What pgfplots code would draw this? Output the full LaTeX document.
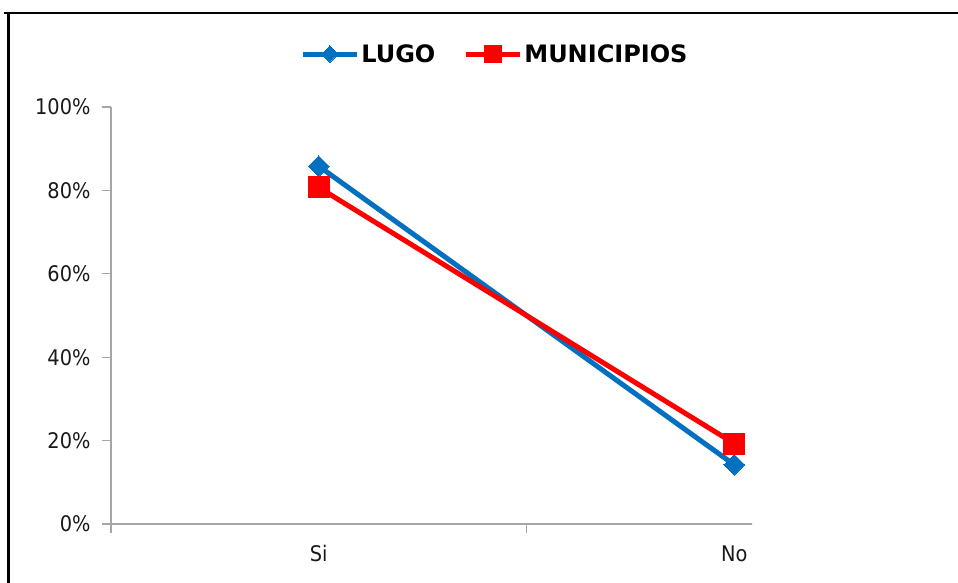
\documentclass[border=0pt]{standalone}
\usepackage{fontspec}
\setmainfont{DejaVu Sans}
\newfontfamily\tickfont{DejaVu Sans Condensed}
\usepackage{pgfplots}
\pgfplotsset{compat=1.18}
\definecolor{lugo}{HTML}{0070C0}
\definecolor{muni}{HTML}{FF0000}
\definecolor{axgray}{HTML}{A6A6A6}
\begin{document}
\begin{tikzpicture}[x=1pt,y=1pt]
\useasboundingbox (0,0) rectangle (958,583);
\draw[line width=2.6pt] (4,570) -- (958,570);
\draw[line width=3pt] (8.5,571.3) -- (8.5,0);
\begin{scope}
\clip (0,0) rectangle (752,583);
\begin{axis}[
  at={(111pt,59pt)}, anchor=origin,
  scale only axis, width=831pt, height=417pt,
  xmin=0, xmax=2, ymin=0, ymax=100,
  axis x line*=bottom, axis y line*=left,
  axis line style={draw=axgray, line width=1.3pt},
  tick style={draw=axgray, line width=1.3pt},
  tick align=outside, major tick length=9pt,
  xtick={0,1,2}, xticklabels={},
  extra x ticks={0.5,1.5}, extra x tick labels={Si,No},
  extra x tick style={major tick length=0pt, xticklabel style={yshift=-18pt}},
  ytick={0,20,40,60,80,100},
  yticklabel={\pgfmathprintnumber{\tick}\%},
  /pgf/number format/assume math mode=true,
  ticklabel style={font=\tickfont\fontsize{21.5}{24}\selectfont, text=black!90},
  yticklabel style={xshift=-8pt},
  legend style={at={(0.462,1.127)}, anchor=center, draw=none, fill=none,
    legend columns=2, font=\fontsize{24}{27}\selectfont\bfseries,
    /tikz/every even column/.append style={column sep=26pt},
    cells={anchor=west}, inner sep=0pt},
  legend image code/.code={\draw[mark repeat=2,mark phase=2, every mark/.append style={scale=0.8}] plot coordinates {(-2pt,0pt) (25pt,0pt) (52pt,0pt)};},
]
\addplot[color=lugo, line width=5pt, mark=square*, mark size=7.3pt, mark options={rotate=45, line width=0pt}] coordinates {(0.5,85.8) (1.5,14.2)};
\addlegendentry{LUGO}
\addplot[color=muni, line width=5pt, mark=square*, mark size=10.5pt, mark options={line width=0pt}] coordinates {(0.5,80.7) (1.5,19.3)};
\addlegendentry{MUNICIPIOS}
\end{axis}
\end{scope}
\end{tikzpicture}
\end{document}
